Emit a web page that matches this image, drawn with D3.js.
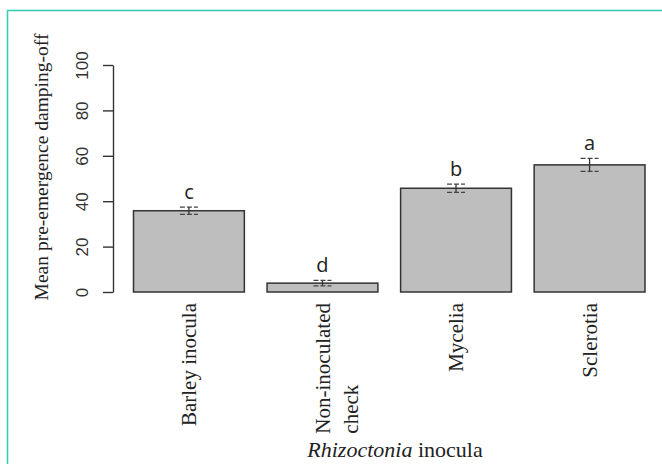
<!DOCTYPE html>
<html>
<head>
<meta charset="utf-8">
<script src="https://cdn.jsdelivr.net/npm/d3@7"></script>
<style>
  html, body { margin: 0; padding: 0; background: #ffffff; }
  svg { display: block; }
</style>
</head>
<body>
<svg id="chart" width="662" height="464"></svg>
<script>
// ---- data ----
const categories = ["Barley inocula", "Non-inoculated\ncheck", "Mycelia", "Sclerotia"];
const means      = [35.8, 3.9, 45.7, 56.0];
const errors     = [1.6, 1.2, 1.8, 2.9];
const letters    = ["c", "d", "b", "a"];
const yTicks     = [0, 20, 40, 60, 80, 100];

// ---- layout ----
const W = 662, H = 464;
const svg = d3.select("#chart");
const axisX = 113, yTop = 65, yBottom = 292;
const plotLeft = 133.5, plotRight = 645;
const serif = "'Liberation Serif','Times New Roman',Times,serif";
const sans = "'Liberation Sans',Arial,Helvetica,sans-serif";

// frame
svg.append("rect")
  .attr("x", 7.5).attr("y", 10.5)
  .attr("width", W + 10).attr("height", H + 10)
  .attr("fill", "none")
  .attr("stroke", "#3ccbb5")
  .attr("stroke-width", 1.6);

const y = d3.scaleLinear().domain([0, 100]).range([yBottom, yTop]);
const x = d3.scaleBand().domain(categories).range([plotLeft, plotRight])
  .paddingInner(0.17).paddingOuter(0);

// y axis
const yAxis = svg.append("g")
  .attr("transform", `translate(${axisX},0)`)
  .call(d3.axisLeft(y).tickValues(yTicks).tickSize(10).tickSizeOuter(0));
yAxis.select(".domain").attr("stroke", "#333").attr("stroke-width", 1.4);
yAxis.selectAll(".tick line").attr("stroke", "#333").attr("stroke-width", 1.4);
yAxis.selectAll(".tick text")
  .attr("x", 0).attr("dy", 0)
  .attr("transform", "translate(-25,0) rotate(-90)")
  .attr("text-anchor", "middle")
  .attr("font-family", sans)
  .attr("font-size", 17)
  .attr("fill", "#333");

// bars
const data = categories.map((c, i) => ({ c, m: means[i], e: errors[i], l: letters[i] }));
svg.append("g").selectAll("rect")
  .data(data).join("rect")
  .attr("x", d => x(d.c))
  .attr("y", d => y(d.m))
  .attr("width", x.bandwidth())
  .attr("height", d => y(0) - y(d.m))
  .attr("fill", "#bebebe")
  .attr("stroke", "#333")
  .attr("stroke-width", 1.5);

// error bars
const eb = svg.append("g").selectAll("g").data(data).join("g")
  .attr("transform", d => `translate(${x(d.c) + x.bandwidth() / 2},0)`);
eb.append("line")
  .attr("x1", 0).attr("x2", 0)
  .attr("y1", d => y(d.m - d.e)).attr("y2", d => y(d.m + d.e))
  .attr("stroke", "#333").attr("stroke-width", 1.3);
eb.selectAll("line.cap")
  .data(d => [d.m - d.e, d.m + d.e])
  .join("line").attr("class", "cap")
  .attr("x1", -9).attr("x2", 9)
  .attr("y1", v => y(v)).attr("y2", v => y(v))
  .attr("stroke", "#444").attr("stroke-width", 1.3)
  .attr("stroke-dasharray", "5,2");

// significance letters
svg.append("g").selectAll("text")
  .data(data).join("text")
  .attr("x", d => x(d.c) + x.bandwidth() / 2)
  .attr("y", d => y(d.m + d.e) - 8)
  .attr("text-anchor", "middle")
  .attr("font-family", "'Open Sans','Liberation Sans',Arial,sans-serif")
  .attr("font-size", 20)
  .attr("fill", "#222")
  .text(d => d.l);

// category labels (rotated, left-aligned block whose far end touches labelTop)
const labelTop = 303, lineGap = 28;
const labG = svg.append("g");
data.forEach(d => {
  const lines = d.c.split("\n");
  const cx = x(d.c) + x.bandwidth() / 2;
  const g = labG.append("g");
  const texts = lines.map((ln, i) => g.append("text")
    .attr("font-family", serif)
    .attr("font-size", 21)
    .attr("fill", "#222")
    .attr("text-anchor", "start")
    .text(ln));
  const maxLen = d3.max(texts, t => t.node().getComputedTextLength());
  texts.forEach((t, i) => {
    const px = cx + i * lineGap;
    const py = labelTop + maxLen;
    t.attr("transform", `translate(${px},${py}) rotate(-90)`)
     .attr("dy", "0.35em");
  });
});

// y title
svg.append("text")
  .attr("transform", "translate(48,167) rotate(-90)")
  .attr("text-anchor", "middle")
  .attr("font-family", serif)
  .attr("font-size", 19.5)
  .attr("fill", "#222")
  .text("Mean pre-emergence damping-off");

// x title
const xt = svg.append("text")
  .attr("x", 395).attr("y", 457)
  .attr("text-anchor", "middle")
  .attr("font-family", serif)
  .attr("font-size", 22)
  .attr("fill", "#222");
xt.append("tspan").attr("font-style", "italic").text("Rhizoctonia");
xt.append("tspan").text(" inocula");
</script>
</body>
</html>
